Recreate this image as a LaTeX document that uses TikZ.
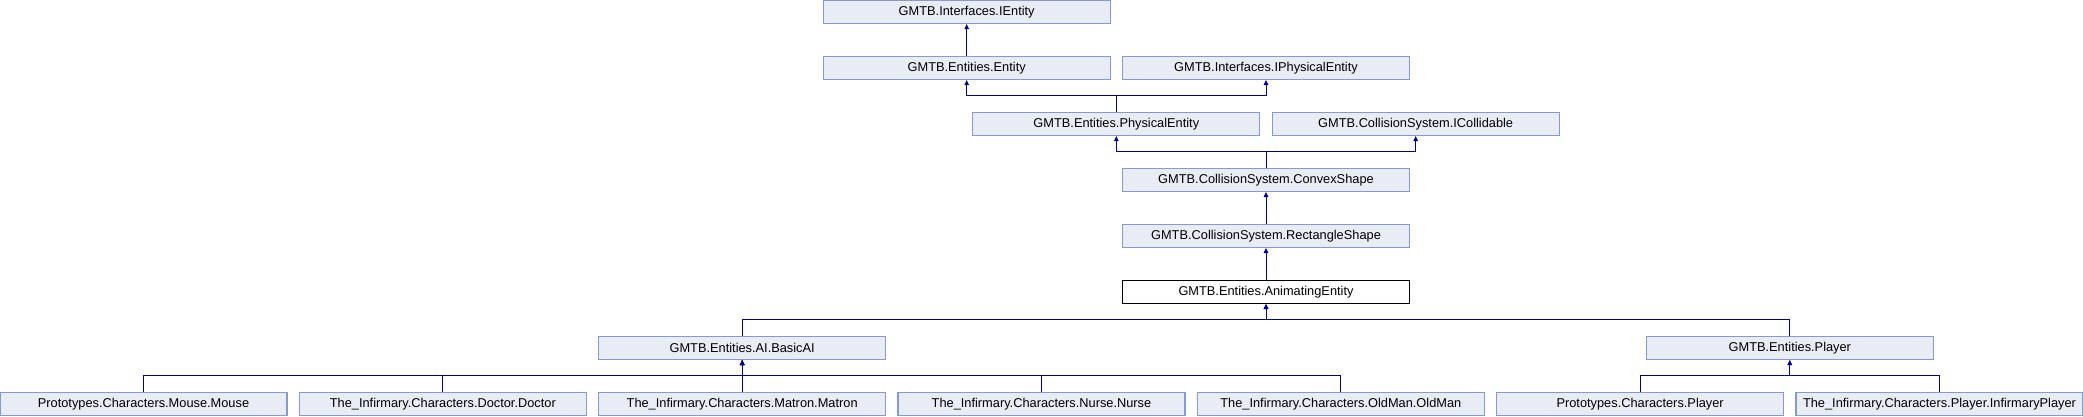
\documentclass[tikz,border=0pt]{standalone}
\usepackage{fontspec}
\setmainfont{Liberation Sans}
\usetikzlibrary{arrows.meta}
\definecolor{boxfill}{RGB}{232,236,244}
\definecolor{boxline}{RGB}{132,155,208}
\definecolor{edgecol}{RGB}{0,0,140}
\tikzset{
  cls/.style={draw=boxline, fill=boxfill, line width=1.1pt, minimum width=287pt, minimum height=23pt, inner sep=0pt, font=\fontsize{12.8}{14}\selectfont},
  curcls/.style={cls, draw=black, fill=white},
  inh/.style={draw=edgecol, line width=1pt, -{Triangle[length=5pt,width=4.5pt]}},
  bus/.style={draw=edgecol, line width=1pt}
}
\begin{document}
\begin{tikzpicture}[x=1pt,y=1pt]
\useasboundingbox (0,0) rectangle (2083,-416);
% rows: y center = -(56 r + 12)
\node[cls] (ient) at ({143.5+299.33*2.75},-12) {GMTB.Interfaces.IEntity};
\node[cls] (ent) at ({143.5+299.33*2.75},-68) {GMTB.Entities.Entity};
\node[cls] (ipe) at ({143.5+299.33*3.75},-68) {GMTB.Interfaces.IPhysicalEntity};
\node[cls] (pe) at ({143.5+299.33*3.25},-124) {GMTB.Entities.PhysicalEntity};
\node[cls] (icol) at ({143.5+299.33*4.25},-124) {GMTB.CollisionSystem.ICollidable};
\node[cls] (cvx) at ({143.5+299.33*3.75},-180) {GMTB.CollisionSystem.ConvexShape};
\node[cls] (rect) at ({143.5+299.33*3.75},-236) {GMTB.CollisionSystem.RectangleShape};
\node[curcls] (anim) at ({143.5+299.33*3.75},-292) {GMTB.Entities.AnimatingEntity};
\node[cls] (ai) at ({143.5+299.33*2},-348) {GMTB.Entities.AI.BasicAI};
\node[cls] (pl) at ({143.5+299.33*5.5},-348) {GMTB.Entities.Player};
\node[cls] (mouse) at (143.5,-404) {Prototypes.Characters.Mouse.Mouse};
\node[cls] (doc) at ({143.5+299.33*1},-404) {The\_Infirmary.Characters.Doctor.Doctor};
\node[cls] (mat) at ({143.5+299.33*2},-404) {The\_Infirmary.Characters.Matron.Matron};
\node[cls] (nur) at ({143.5+299.33*3},-404) {The\_Infirmary.Characters.Nurse.Nurse};
\node[cls] (old) at ({143.5+299.33*4},-404) {The\_Infirmary.Characters.OldMan.OldMan};
\node[cls] (ppl) at ({143.5+299.33*5},-404) {Prototypes.Characters.Player};
\node[cls] (ipl) at ({143.5+299.33*6},-404) {The\_Infirmary.Characters.Player.InfirmaryPlayer};
% edges
\draw[inh] (ent.north) -- (ient.south);
\draw[inh] (pe.north) -- ++(0,16) -| (ent.south);
\draw[inh] (pe.north) -- ++(0,16) -| (ipe.south);
\draw[inh] (cvx.north) -- ++(0,16) -| (pe.south);
\draw[inh] (cvx.north) -- ++(0,16) -| (icol.south);
\draw[inh] (rect.north) -- (cvx.south);
\draw[inh] (anim.north) -- (rect.south);
\draw[inh] (ai.north) -- ++(0,16) -| (anim.south);
\draw[inh] (pl.north) -- ++(0,16) -| (anim.south);
\draw[inh] (mouse.north) -- ++(0,16) -| (ai.south);
\draw[inh] (doc.north) -- ++(0,16) -| (ai.south);
\draw[inh] (mat.north) -- (ai.south);
\draw[inh] (nur.north) -- ++(0,16) -| (ai.south);
\draw[inh] (old.north) -- ++(0,16) -| (ai.south);
\draw[inh] (ppl.north) -- ++(0,16) -| (pl.south);
\draw[inh] (ipl.north) -- ++(0,16) -| (pl.south);
\end{tikzpicture}
\end{document}
